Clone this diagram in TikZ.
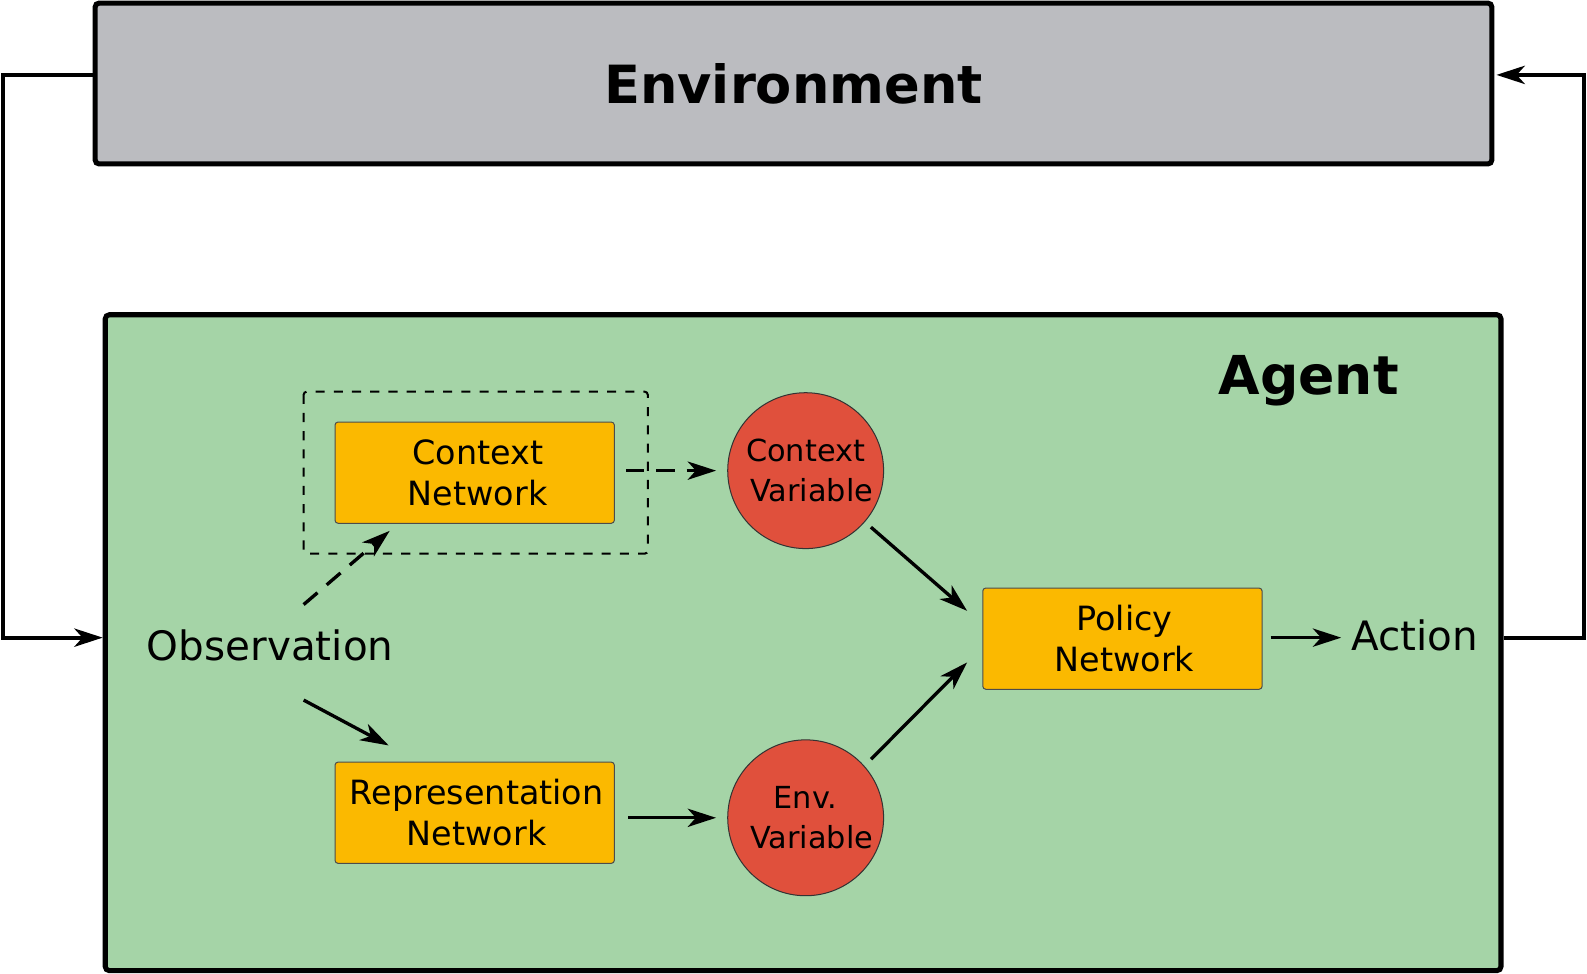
\documentclass[tikz,border=0pt]{standalone}
\usepackage{fontspec}
\setmainfont{DejaVu Sans}
\usepackage{xcolor}
\usepackage{tikz}
\usetikzlibrary{arrows.meta}
\definecolor{envgray}{RGB}{187,188,192}
\definecolor{agentgreen}{RGB}{165,212,167}
\definecolor{netorange}{RGB}{251,185,0}
\definecolor{varred}{RGB}{224,80,60}
\tikzset{
  netbox/.style={draw=black!70,fill=netorange,line width=1pt,rounded corners=3pt,
    minimum width=276,minimum height=100,align=center,
    font=\fontsize{33}{41}\selectfont},
  varcirc/.style={draw=black!80,fill=varred,line width=1pt,circle,
    minimum size=154,inner sep=0pt,align=center,
    font=\fontsize{30}{39}\selectfont},
  bigbox/.style={draw,line width=5pt,rounded corners=4pt,inner sep=0pt},
  flow/.style={line width=3.3pt,->},
  loop/.style={line width=4pt,->},
  lbl/.style={font=\fontsize{40}{48}\selectfont,inner sep=0pt}
}
\begin{document}
\begin{tikzpicture}[x=1pt,y=-1pt,>={Stealth[length=28pt,width=18pt,inset=8pt]}]
\useasboundingbox (0,0) rectangle (1568,962);
% boxes for environment and agent
\node[bigbox,fill=envgray,minimum width=1380,minimum height=159] (env) at (784,82.5) {};
\node[font=\fontsize{52}{60}\selectfont\bfseries] at (env.center) {Environment};
\node[bigbox,fill=agentgreen,minimum width=1379,minimum height=648] (agent) at (793.5,635) {};
\node[font=\fontsize{53}{60}\selectfont\bfseries] (agentlbl) at (1293,376) {Agent};
% networks
\node[netbox] (ctxnet) at (469,467) {\hspace*{6pt}Context\\\hspace*{6pt}Network};
\node[netbox] (repnet) at (469,803) {\hspace*{4pt}Representation\\\hspace*{4pt}Network};
\node[netbox] (polnet) at (1109,631) {\hspace*{4pt}Policy\\\hspace*{4pt}Network};
\draw[line width=2pt,dashed,dash pattern=on 9pt off 9pt,rounded corners=3pt] (300,387) rectangle (640,547);
% variables
\node[varcirc] (ctxvar) at (796,465) {Context\\\hspace*{12pt}Variable};
\node[varcirc] (envvar) at (796,808) {Env.\\\hspace*{12pt}Variable};
% observation and action
\node[lbl] (obs) at (267,638) {Observation};
\node[lbl] (act) at (1398,628) {Action};
% arrows inside the agent
\draw[flow,dashed,dash pattern=on 18pt off 12pt] ([shift={(33,-25)}]obs.north) -- ([shift={(-84,7)}]ctxnet.south);
\draw[flow] ([shift={(33,38)}]obs.south) -- ([shift={(-85,-16)}]repnet.north);
\draw[flow,dashed,dash pattern=on 18pt off 12pt] ([shift={(11,-2)}]ctxnet.east) -- ([shift={(-11,0)}]ctxvar.west);
\draw[flow] ([shift={(13,5)}]repnet.east) -- ([shift={(-11,0)}]envvar.west);
\draw[flow] ([shift={(6,5)}]ctxvar.-41) -- ([shift={(-15,23)}]polnet.north west);
\draw[flow] ([shift={(7,-6)}]envvar.42) -- ([shift={(-15,-27)}]polnet.south west);
\draw[flow] ([shift={(8,-1)}]polnet.east) -- ([shift={(-10,2)}]act.west);
% feedback loop
\draw[loop] ([shift={(0,-8.5)}]env.west) -- (3,74) -- (3,630) -- (agent.west |- 0,630);
\draw[loop] (agent.east |- 0,630) -- (1565,630) -- (1565,74) -- ([shift={(2,-8.5)}]env.east);
\end{tikzpicture}
\end{document}
